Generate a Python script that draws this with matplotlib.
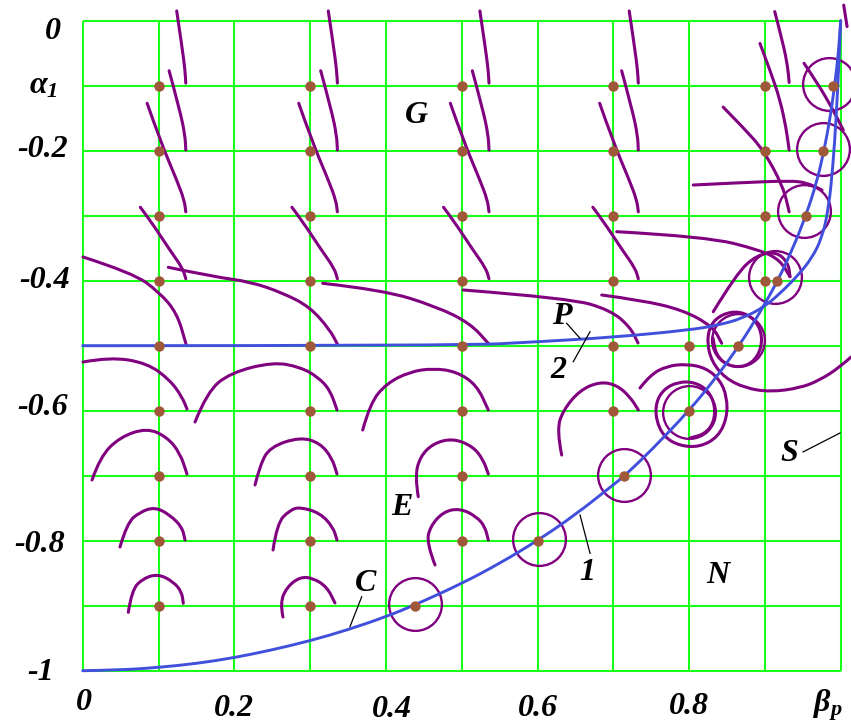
import matplotlib
matplotlib.use('Agg')
import matplotlib.pyplot as plt
from matplotlib.path import Path
from matplotlib.patches import PathPatch

plt.rcParams['mathtext.fontset'] = 'custom'
plt.rcParams['mathtext.rm'] = 'Liberation Serif:bold:italic'
plt.rcParams['mathtext.it'] = 'Liberation Serif:bold:italic'
plt.rcParams['mathtext.bf'] = 'Liberation Serif:bold:italic'

GREEN = '#1aff1a'
PURPLE = '#800080'
BLUE = '#4150dc'
BROWN = '#a0583a'

# ---------------- data ----------------
grid_beta = [0.0, 0.1, 0.2, 0.3, 0.4, 0.5, 0.6, 0.7, 0.8, 0.9, 1.0]
grid_alpha = [0.0, -0.1, -0.2, -0.3, -0.4, -0.5, -0.6, -0.7, -0.8, -0.9, -1.0]

xtick_values = [0.0, 0.2, 0.4, 0.6, 0.8, 1.0]
xtick_labels = ['0', '0.2', '0.4', '0.6', '0.8', r'$\beta_p$']
ytick_values = [0.0, -0.1, -0.2, -0.4, -0.6, -0.8, -1.0]
ytick_labels = ['0', r'$\alpha_1$', '-0.2', '-0.4', '-0.6', '-0.8', '-1']

# dots on the grid, by column
dot_columns = [0.1, 0.3, 0.5, 0.7, 0.8, 0.9]
dot_rows = [
    [-0.1, -0.2, -0.3, -0.4, -0.5, -0.6, -0.7, -0.8, -0.9],
    [-0.1, -0.2, -0.3, -0.4, -0.5, -0.6, -0.7, -0.8, -0.9],
    [-0.1, -0.2, -0.3, -0.4, -0.5, -0.6, -0.7, -0.8],
    [-0.1, -0.2, -0.3, -0.4, -0.5, -0.6],
    [-0.5, -0.6],
    [-0.1, -0.2, -0.3, -0.4],
]
# dots lying on curve 1
curve_dot_beta = [0.99, 0.977, 0.954, 0.916, 0.865, 0.714, 0.601, 0.438]
curve_dot_alpha = [-0.1, -0.2, -0.3, -0.4, -0.5, -0.7, -0.8, -0.9]

# circles around curve-1 points
circle_beta = [0.438, 0.602, 0.714, 0.8, 0.865, 0.913, 0.952, 0.977, 0.9845]
circle_alpha = [-0.897, -0.798, -0.699, -0.602, -0.4915, -0.394, -0.293, -0.197, -0.0975]

# curve 1 (C)
blue1_beta = [0.0, 0.05, 0.1, 0.15, 0.2, 0.25, 0.3, 0.35, 0.4, 0.44, 0.5, 0.55, 0.6,
              0.65, 0.7, 0.715, 0.75, 0.8, 0.835, 0.866, 0.893, 0.917, 0.937, 0.954,
              0.968, 0.978, 0.986, 0.992, 0.997, 1.0]
blue1_alpha = [-1.0, -0.999, -0.995, -0.989, -0.98, -0.968, -0.954, -0.937, -0.917,
               -0.898, -0.866, -0.835, -0.8, -0.76, -0.714, -0.7, -0.661, -0.6, -0.55,
               -0.5, -0.45, -0.4, -0.35, -0.3, -0.25, -0.2, -0.15, -0.1, -0.05, 0.0]

# curve 2 (P)
blue2_beta = [0.0, 0.5, 0.6, 0.7, 0.8, 0.84, 0.87, 0.9, 0.925, 0.945, 0.962, 0.975,
              0.984, 0.99, 0.994, 0.997, 1.0]
blue2_alpha = [-0.5, -0.5, -0.494, -0.487, -0.476, -0.468, -0.458, -0.44, -0.414,
               -0.39, -0.365, -0.335, -0.29, -0.22, -0.15, -0.08, 0.0]

# G-region strokes, offsets from their column
g_columns = [0.1, 0.3, 0.5, 0.697]
g_shapes = [
    ([0.024, 0.031, 0.035, 0.036], [0.015, -0.040, -0.076, -0.096]),
    ([0.014, 0.028, 0.035, 0.036], [-0.077, -0.137, -0.176, -0.199]),
    ([-0.015, 0.002, 0.024, 0.034, 0.036], [-0.127, -0.184, -0.245, -0.276, -0.294]),
    ([-0.024, -0.011, 0.015, 0.032, 0.036], [-0.287, -0.307, -0.353, -0.381, -0.397]),
]

# all other trajectories (beta, alpha)
trajectories = [
    # column 0.9, G region
    ([0.913, 0.924, 0.93, 0.932], [0.014, -0.035, -0.07, -0.095]),
    ([0.8935, 0.908, 0.92, 0.928, 0.932], [-0.035, -0.08, -0.122, -0.165, -0.199]),
    ([0.845, 0.872, 0.898, 0.924, 0.932], [-0.133, -0.165, -0.199, -0.255, -0.294]),
    # top-right strokes
    ([1.004, 1.0084], [0.024, -0.009]),
    ([0.9516, 0.9701, 0.9886, 1.0034], [-0.0655, -0.0974, -0.1343, -0.1682]),
    ([0.8055, 0.8671, 0.9331, 0.9551, 0.9753], [-0.2528, -0.2492, -0.2462, -0.2492, -0.2605]),
    ([0.7045, 0.8232, 0.8935, 0.9199, 0.9331], [-0.3246, -0.3323, -0.3528, -0.3682, -0.3938]),
    ([0.8319, 0.8628, 0.8892, 0.9156, 0.9309, 0.9331],
     [-0.4477, -0.3886, -0.3605, -0.3554, -0.3732, -0.3938]),
    # row -0.5 sweeps
    ([0.0004, 0.0664, 0.1007, 0.1244, 0.1363], [-0.3635, -0.3882, -0.4174, -0.4497, -0.4974]),
    ([0.1129, 0.1745, 0.2207, 0.2642, 0.2999, 0.3262, 0.3359],
     [-0.3794, -0.3943, -0.4015, -0.4189, -0.4405, -0.4758, -0.4974]),
    ([0.3166, 0.3966, 0.467, 0.511, 0.5351], [-0.404, -0.4143, -0.44, -0.4655, -0.4963]),
    ([0.5021, 0.6429, 0.6956, 0.722, 0.7326], [-0.4143, -0.4271, -0.445, -0.4708, -0.4958]),
    ([0.6847, 0.7352, 0.7919, 0.8315, 0.843], [-0.422, -0.4297, -0.445, -0.4708, -0.4963]),
    # row -0.6 arcs
    ([0.0004, 0.036, 0.0848, 0.1152, 0.1311, 0.1376],
     [-0.5251, -0.5174, -0.5266, -0.5528, -0.5789, -0.5974]),
    ([0.1482, 0.164, 0.1943, 0.2511, 0.2867, 0.3104, 0.3263, 0.3355],
     [-0.6174, -0.5712, -0.5419, -0.5251, -0.5328, -0.5482, -0.5682, -0.5989]),
    ([0.3694, 0.379, 0.4011, 0.4318, 0.4625, 0.4934, 0.5198, 0.5351],
     [-0.6297, -0.5886, -0.5578, -0.54, -0.5348, -0.54, -0.5605, -0.5989]),
    ([0.6319, 0.6253, 0.634, 0.6561, 0.6825, 0.7045, 0.722, 0.733],
     [-0.6682, -0.6297, -0.5989, -0.5682, -0.5554, -0.5605, -0.5785, -0.5989]),
    # spiral at (0.8, -0.6)
    ([0.7352, 0.7484, 0.7708, 0.7972, 0.8223, 0.8408, 0.85, 0.85, 0.8381, 0.8144, 0.788,
      0.7669, 0.7563, 0.7563, 0.7669, 0.7853, 0.8064, 0.8249, 0.8342, 0.8329, 0.821, 0.8012],
     [-0.5651, -0.5451, -0.5312, -0.5282, -0.5343, -0.5528, -0.5789, -0.6112, -0.6405,
      -0.6558, -0.6543, -0.6405, -0.6143, -0.5866, -0.5666, -0.5558, -0.5558, -0.5682,
      -0.5912, -0.6174, -0.6358, -0.642]),
    # spiral at (0.865, -0.5)
    ([1.0136, 0.9991, 0.9727, 0.9463, 0.9067, 0.8738, 0.8474, 0.8302, 0.8236, 0.8276,
      0.8434, 0.8672, 0.8883, 0.8975, 0.8909, 0.8738, 0.8513, 0.8355, 0.8315],
     [-0.5174, -0.5328, -0.5528, -0.5651, -0.5712, -0.5651, -0.5497, -0.5251, -0.4958,
      -0.4682, -0.4512, -0.4466, -0.4605, -0.4882, -0.5174, -0.5328, -0.5312, -0.5143,
      -0.4882]),
    # row -0.7 arcs
    ([0.0123, 0.0228, 0.0492, 0.0848, 0.1112, 0.1284, 0.1376],
     [-0.7066, -0.6712, -0.6405, -0.6266, -0.6405, -0.6651, -0.6974]),
    ([0.2273, 0.2339, 0.2471, 0.2867, 0.313, 0.3289, 0.3355],
     [-0.7143, -0.6835, -0.6558, -0.6405, -0.6497, -0.6728, -0.6974]),
    ([0.4427, 0.4384, 0.445, 0.4625, 0.4889, 0.5153, 0.5285, 0.5351],
     [-0.7323, -0.7015, -0.6708, -0.6502, -0.6425, -0.6554, -0.6758, -0.6974]),
    # row -0.8 arcs
    ([0.0492, 0.0584, 0.0756, 0.0954, 0.1152, 0.131, 0.135],
     [-0.8097, -0.7728, -0.7558, -0.7482, -0.7605, -0.7789, -0.7989]),
    ([0.2511, 0.2563, 0.2735, 0.2867, 0.313, 0.3302, 0.3355],
     [-0.8143, -0.7728, -0.7528, -0.7482, -0.7574, -0.7789, -0.7989]),
    ([0.4648, 0.4538, 0.4582, 0.4757, 0.4978, 0.5198, 0.5307, 0.5351],
     [-0.8374, -0.804, -0.7785, -0.7554, -0.7502, -0.7631, -0.7785, -0.7989]),
    # row -0.9 arcs
    ([0.0602, 0.0646, 0.0799, 0.0997, 0.1195, 0.1306, 0.1327],
     [-0.9102, -0.8758, -0.8578, -0.8512, -0.8631, -0.8785, -0.8963]),
    ([0.2642, 0.2603, 0.2695, 0.2867, 0.3038, 0.3223, 0.3328],
     [-0.9174, -0.8958, -0.8712, -0.8558, -0.8574, -0.8712, -0.8958]),
]

# region / curve labels with optional leader lines
label_texts = ['G', 'E', 'N', 'S', 'P', '2', 'C', '1']
label_beta = [0.4397, 0.4208, 0.8375, 0.9316, 0.6317, 0.627, 0.3738, 0.6653]
label_alpha = [-0.1466, -0.7489, -0.8543, -0.6658, -0.4558, -0.5374, -0.8651, -0.8482]
leaders = [
    None, None, None,
    ([0.9503, 0.9991], [-0.6635, -0.6343]),
    ([0.6385, 0.6561], [-0.4655, -0.4886]),
    ([0.6472, 0.6693], [-0.5246, -0.4785]),
    ([0.3681, 0.3526], [-0.8862, -0.9323]),
    ([0.6561, 0.6693], [-0.7605, -0.8194]),
]

# tick label nudges (points)
xtick_offsets = [(1, -23), (0, -27), (4, -28), (0, -27), (0, -26), (-9.5, -24.5)]
ytick_offsets = [(-16, -8), (-18, 0), (-10.5, 1), (-9, 0), (-10.5, 2), (-12.5, -3), (-21, -1.5)]


def smooth(ax, bb, al, **kw):
    # quadratic-bezier chain using the read points as control points
    pts = list(zip(bb, al))
    if len(pts) < 3:
        ax.plot(bb, al, color=kw['edgecolor'], lw=kw['lw'], clip_on=False,
                solid_capstyle='round', zorder=kw['zorder'])
        return
    verts = [pts[0]]
    codes = [Path.MOVETO]
    for i in range(1, len(pts) - 1):
        mid = ((pts[i][0] + pts[i + 1][0]) / 2, (pts[i][1] + pts[i + 1][1]) / 2)
        verts += [pts[i], mid]
        codes += [Path.CURVE3, Path.CURVE3]
    verts.append(pts[-1])
    codes.append(Path.LINETO)
    patch = PathPatch(Path(verts, codes), fill=False, capstyle='round',
                      joinstyle='round', clip_on=False, **kw)
    ax.add_patch(patch)


# ---------------- figure ----------------
fig = plt.figure(figsize=(8.51, 7.23), dpi=100)
ax = fig.add_axes([82.7 / 851, 52.3 / 723, 758 / 851, 650 / 723])
ax.set_xlim(0, 1)
ax.set_ylim(-1, 0)
ax.axis('off')

ax.vlines(grid_beta, -1, 0, color=GREEN, lw=1.5, zorder=1, clip_on=False)
ax.hlines(grid_alpha, 0, 1, color=GREEN, lw=1.5, zorder=1, clip_on=False)

pkw = dict(edgecolor=PURPLE, lw=2.2, zorder=3)
for col in g_columns:
    for db, al in g_shapes:
        smooth(ax, [col + d for d in db], al, **pkw)
for bb, al in trajectories:
    smooth(ax, bb, al, **pkw)

ax.plot(circle_beta, circle_alpha, 'o', ms=38, mfc='none', mec=PURPLE, mew=1.7,
        clip_on=False, zorder=3)

bkw = dict(edgecolor=BLUE, lw=2.1, zorder=4)
smooth(ax, blue1_beta, blue1_alpha, **bkw)
smooth(ax, blue2_beta, blue2_alpha, **bkw)

dot_b, dot_a = [], []
for col, rows in zip(dot_columns, dot_rows):
    dot_b += [col] * len(rows)
    dot_a += rows
dot_b += curve_dot_beta
dot_a += curve_dot_alpha
ax.plot(dot_b, dot_a, 'o', ms=7.5, color=BROWN, mec='none', zorder=5, clip_on=False)

font = dict(family='Liberation Serif', weight='bold', style='italic', size=23)

for txt, b, a, ld in zip(label_texts, label_beta, label_alpha, leaders):
    ax.text(b, a, txt, ha='center', va='center', zorder=6, **font)
    if ld is not None:
        ax.plot(ld[0], ld[1], color='black', lw=0.9, zorder=6, clip_on=False)

for v, lbl, off in zip(xtick_values, xtick_labels, xtick_offsets):
    ax.annotate(lbl, xy=(v, 0), xycoords=('data', 'axes fraction'), xytext=off,
                textcoords='offset points', ha='center', va='center',
                annotation_clip=False, **font)
for v, lbl, off in zip(ytick_values, ytick_labels, ytick_offsets):
    ax.annotate(lbl, xy=(0, v), xycoords=('axes fraction', 'data'), xytext=off,
                textcoords='offset points', ha='right', va='center',
                annotation_clip=False, **font)

fig.savefig('out.png', dpi=100)
